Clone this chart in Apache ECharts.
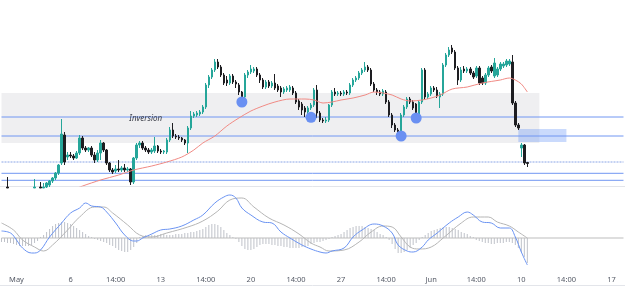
<!DOCTYPE html>
<html><head><meta charset="utf-8">
<script src="https://cdn.jsdelivr.net/npm/echarts@6/dist/echarts.min.js"></script>
<style>html,body{margin:0;padding:0;background:#fff}#c{width:625px;height:287px}</style>
</head><body><div id="c"></div>
<script>
// ---- data ----
// candles: [open, close, low, high]
const candles = [
[10,8,6,12],[8,6,4,10],[13,12,12,23],[9,5,3,10],[5,3,1,7],[3,4,0,6],[4,2,0,6],[2,0,-2,4],[0,2,-3,4],[2,1,-2,5],
[1,5,0,8],[12,13,12,21],[9,7,5,11],[13,12,12,18],[12,13,12,17],[13,17,12,18],[15,19,13,20],[19,22,17,23],[22,27,20,28],[27,35,25,36],
[37,66,35,81],[65,38,35,68],[43,45,40,48],[45,44,42,48],[44,42,40,46],[42,47,41,49],[47,62,45,65],[62,52,50,64],[52,50,48,54],[50,52,48,53],
[52,45,43,54],[45,40,37,48],[40,47,38,50],[47,57,40,60],[57,50,48,58],[50,37,35,51],[37,30,28,38],[30,28,26,32],[29,31,27,35],[31,30,28,40],
[30,32,28,34],[32,30,28,36],[30,31,28,33],[31,18,15,32],[18,42,16,43],[42,55,40,57],[55,57,52,59],[57,52,50,59],[52,50,48,54],[50,48,46,52],
[48,50,46,52],[49,54,47,63],[54,49,47,55],[49,48,46,51],[48,49,46,50],[48,60,46,62],[60,70,58,73],[70,64,62,77],[64,63,61,66],[63,62,60,65],
[62,60,58,63],[60,57,55,61],[57,72,47,74],[72,84,70,89],[84,86,82,88],[85,87,83,89],[86,88,84,90],[88,93,86,95],[93,115,91,117],[115,123,112,125],
[123,130,121,132],[130,138,128,141],[138,133,131,141],[133,125,123,135],[125,117,115,127],[120,117,114,124],[117,124,115,126],[124,118,116,126],[118,116,112,120],[115,108,105,117],
[108,103,101,109],[103,125,101,127],[125,128,122,130],[128,131,126,135],[129,131,127,133],[131,125,123,133],[125,120,117,127],[120,113,111,122],[113,118,111,120],[118,114,112,120],
[114,117,112,119],[117,112,110,126],[114,110,108,116],[112,108,103,114],[108,111,106,113],[110,112,108,114],[110,113,108,115],[112,107,105,114],[107,98,96,109],[99,93,90,101],
[96,90,85,98],[92,88,83,94],[88,92,86,94],[92,95,90,97],[95,110,93,112],[110,87,82,115],[87,80,78,89],[80,79,77,82],[79,80,77,83],[80,95,78,96],
[95,108,93,110],[108,106,104,112],[106,107,104,109],[107,106,104,109],[106,108,104,110],[108,107,105,110],[107,115,105,117],[115,120,113,122],[120,122,118,124],[122,127,120,129],
[127,130,125,132],[130,133,128,138],[133,130,128,135],[130,116,114,132],[116,110,108,118],[110,108,105,112],[108,106,104,110],[106,109,104,111],[108,98,96,110],[98,85,83,100],
[85,75,72,87],[75,70,68,77],[70,68,64,72],[68,85,64,87],[85,93,83,95],[93,101,91,103],[101,98,96,103],[98,92,90,100],[96,86,83,97],[86,98,84,100],
[98,130,96,132],[130,103,100,132],[103,106,101,108],[106,112,104,114],[112,110,108,114],[110,104,102,113],[103,106,92,108],[106,135,104,137],[135,145,133,147],[145,150,143,153],
[152,148,146,155],[148,132,130,150],[132,120,115,134],[120,130,118,133],[131,129,127,134],[129,131,127,133],[131,127,125,133],[127,123,121,129],[124,132,122,134],[132,117,115,134],
[122,117,115,124],[117,125,115,127],[125,132,123,134],[133,129,127,135],[124,137,122,142],[125,131,123,133],[131,136,129,138],[134,136,132,138],[135,139,133,141],[136,139,134,141],
[138,97,95,145],[97,75,73,99],[75,72,70,77],[52,55,43,57],[55,37,35,56],[37.5,36.5,33,38]
];
// moving average [index, value]
const maLine = [[22,8],[27,14],[33,20],[39,25],[44,30],[50,34],[55,38],[60,43],[64,50],[67,57],[71,64],[75,74],[79,82],[83,89],[87,94],[91,98],[96,101],[101,101],[104,100],[107,97],[110,98],[113,100],[117,102],[121,105],[124,108],[127,107],[130,105],[133,101],[136,99],[140,100],[143,102],[146,105],[150,111],[155,113],[160,117],[166,120],[169,122],[171,120],[173,116],[175,108]];
// MACD
const macdLine = [[0,7],[3,5],[5,-2],[7,-10],[10,-15],[11,-15],[13,-12],[16,1],[20,15],[23,25],[26,30],[28,35],[30,32],[33,31],[35,26],[38,15],[41,3],[44,-3],[45,-3],[47,0],[50,4],[53,8],[56,9],[60,12],[64,18],[67,23],[71,35],[74,41],[76,43],[78,40],[80,30],[83,23],[87,16],[90,15],[93,6],[96,0],[100,-7],[103,-11],[106,-14],[108,-15],[110,-13],[114,-10],[117,1],[120,8],[124,14],[127,12],[130,5],[132,-7],[135,-13],[137,-14],[140,-9],[142,-2],[145,5],[149,15],[152,21],[155,26],[157,23],[160,16],[163,15],[166,10],[169,10],[171,1],[173,-14],[175,-27]];
const signalLine = [[0,15],[4,8],[7,-2],[11,-9],[14,-13],[17,-7],[22,8],[26,21],[31,31],[34,31],[37,25],[42,13],[46,3],[50,1],[55,5],[62,11],[67,17],[72,27],[76,38],[80,40],[84,31],[89,20],[94,13],[99,4],[103,-5],[106,-9],[109,-13],[114,-12],[119,-4],[123,6],[127,12],[130,11],[133,1],[136,-9],[139,-11],[143,-9],[147,0],[153,15],[157,21],[162,21],[165,16],[169,12],[172,6],[175,0]];
const histogram = [
-4,-4,-5,-5,-6,-7,-8,-8,-8,-8,-7,-5,-3,
1,3,6,9,12,14,15,16,16,15,14,12,10,8,6,4,2,1,
-1,-2,-3,-4,-5,-7,-8,-10,-12,-13,-14,-14,-12,-9,-5,
1,2,3,3,3,3,3,4,4,3,3,3,4,4,4,5,5,6,6,7,8,9,11,13,14,14,13,11,8,5,3,1,
-1,-4,-8,-11,-12,-12,-11,-9,-7,-6,-6,-6,-7,-7,-8,-8,-9,-9,-10,-10,-10,-10,-9,-9,-8,-6,-5,-4,-4,
-3,-2,-1,
1,2,3,4,6,8,10,11,12,12,12,11,10,9,8,6,4,3,1,
-2,-6,-11,-15,-15,-14,-12,-10,-7,-5,-2,
1,3,5,7,8,9,10,11,11,11,10,9,8,6,5,4,2,1,
-2,-3,-4,-5,-5,-6,-6,-5,-5,-5,-4,-4,-5,-7,-10,-14,-19,-25
];
// levels and zones
const solidLevels = [83, 64, 26.7, 19.7];
const dottedLevels = [38];
const macdZero = 0;
const zone = {from: 0, to: 179, top: 107, bottom: 57};
const box = {from: 172, to: 188, top: 71, bottom: 58};
const markers = [[80, 98], [103, 82.7], [133, 64], [138, 82]];
const note = {text: 'Inversion', at: [48, 81]};
const tickIdx = [5,23,38,53,68,83,98,113,128,143,158,173,188,203];
const tickText = ['May','6','14:00','13','14:00','20','14:00','27','14:00','Jun','14:00','10','14:00','17'];
const categoryCount = 208;

// categories: 4h bars on weekdays
const categories = [];
let t = Date.UTC(2024, 3, 30, 6);
while (categories.length < categoryCount) {
  const d = new Date(t);
  const wd = d.getUTCDay();
  if (wd !== 0 && wd !== 6) categories.push(d.toISOString().slice(0, 16));
  t += 4 * 3600 * 1000;
}
const lastIdx = categoryCount - 1;

const lvlColor = '#7096f2';
const levelSeries = solidLevels.map(v => ({
  type: 'line', xAxisIndex: 0, yAxisIndex: 0, data: [[0, v], [lastIdx, v]], showSymbol: false, silent: true, z: 2,
  lineStyle: {color: lvlColor, width: 1, type: 'solid'}
})).concat(dottedLevels.map(v => ({
  type: 'line', xAxisIndex: 0, yAxisIndex: 0, data: [[0, v], [lastIdx, v]], showSymbol: false, silent: true, z: 2,
  lineStyle: {color: '#8aa5e6', width: 1, type: [2, 1]}
})));

const chart = echarts.init(document.getElementById('c'), null, {renderer: 'canvas'});
chart.setOption({
  animation: false,
  grid: [
    {left: 0, right: 0, top: 0, height: 186},
    {left: 0, right: 0, top: 190, height: 80}
  ],
  xAxis: [
    {type: 'category', data: categories, gridIndex: 0, boundaryGap: true,
     axisLine: {show: true, onZero: false, lineStyle: {color: '#e3e5ea'}}, axisTick: {show: false}, axisLabel: {show: false}, splitLine: {show: false}},
    {type: 'category', data: categories, gridIndex: 1, boundaryGap: true,
     axisLine: {show: false}, axisTick: {show: false}, splitLine: {show: false},
     axisLabel: {show: true, color: '#555a66', fontSize: 7.5, fontFamily: 'Noto Sans', margin: 6,
       interval: (idx) => tickIdx.indexOf(idx) >= 0,
       formatter: (v, idx) => { const k = tickIdx.indexOf(idx); return k >= 0 ? tickText[k] : ''; }}}
  ],
  yAxis: [
    {type: 'value', gridIndex: 0, min: 14, max: 200, show: false, splitLine: {show: false}},
    {type: 'value', gridIndex: 1, min: -32, max: 48, show: false, splitLine: {show: false}}
  ],
  graphic: [
    {type: 'line', shape: {x1: 0, y1: 285.5, x2: 625, y2: 285.5}, style: {stroke: '#e3e5ea', lineWidth: 1}, silent: true}
  ],
  series: [
    {
      type: 'candlestick', xAxisIndex: 0, yAxisIndex: 0, data: candles, barWidth: 2, clip: true, z: 3,
      itemStyle: {color: '#26a69a', color0: '#1e1e22', borderColor: '#26a69a', borderColor0: '#1e1e22', borderWidth: 1},
      markArea: {silent: true, data: [
        [{xAxis: categories[zone.from], yAxis: zone.top, itemStyle: {color: 'rgba(120,123,140,0.12)'}}, {xAxis: categories[zone.to], yAxis: zone.bottom}],
        [{xAxis: categories[box.from], yAxis: box.top, itemStyle: {color: 'rgba(90,140,245,0.32)'}}, {xAxis: categories[box.to], yAxis: box.bottom}]
      ]},
      markPoint: {silent: true, symbol: 'circle', symbolSize: 0,
        data: [{coord: [categories[note.at[0]], note.at[1]], label: {show: true, formatter: note.text, fontStyle: 'italic', fontSize: 8, fontFamily: 'Noto Sans', color: '#3a3d47', position: 'inside'}}]}
    },
    ...levelSeries,
    {type: 'line', xAxisIndex: 0, yAxisIndex: 0, data: maLine, smooth: 0.3, showSymbol: false, lineStyle: {color: '#f08a84', width: 1}, z: 4},
    {type: 'scatter', xAxisIndex: 0, yAxisIndex: 0, data: markers, symbolSize: 11, itemStyle: {color: '#6a90f2', opacity: 1}, z: 5},
    {type: 'line', xAxisIndex: 1, yAxisIndex: 1, data: [[0, macdZero], [lastIdx, macdZero]], showSymbol: false, silent: true, lineStyle: {color: '#bdbdbd', width: 1}},
    {type: 'bar', xAxisIndex: 1, yAxisIndex: 1, data: histogram, barWidth: 1, itemStyle: {color: '#bfc2c9'}},
    {type: 'line', xAxisIndex: 1, yAxisIndex: 1, data: signalLine, smooth: 0.4, showSymbol: false, lineStyle: {color: '#b5b5b5', width: 1}},
    {type: 'line', xAxisIndex: 1, yAxisIndex: 1, data: macdLine, smooth: 0.4, showSymbol: false, lineStyle: {color: '#6a93f2', width: 1}}
  ]
});
</script></body></html>
